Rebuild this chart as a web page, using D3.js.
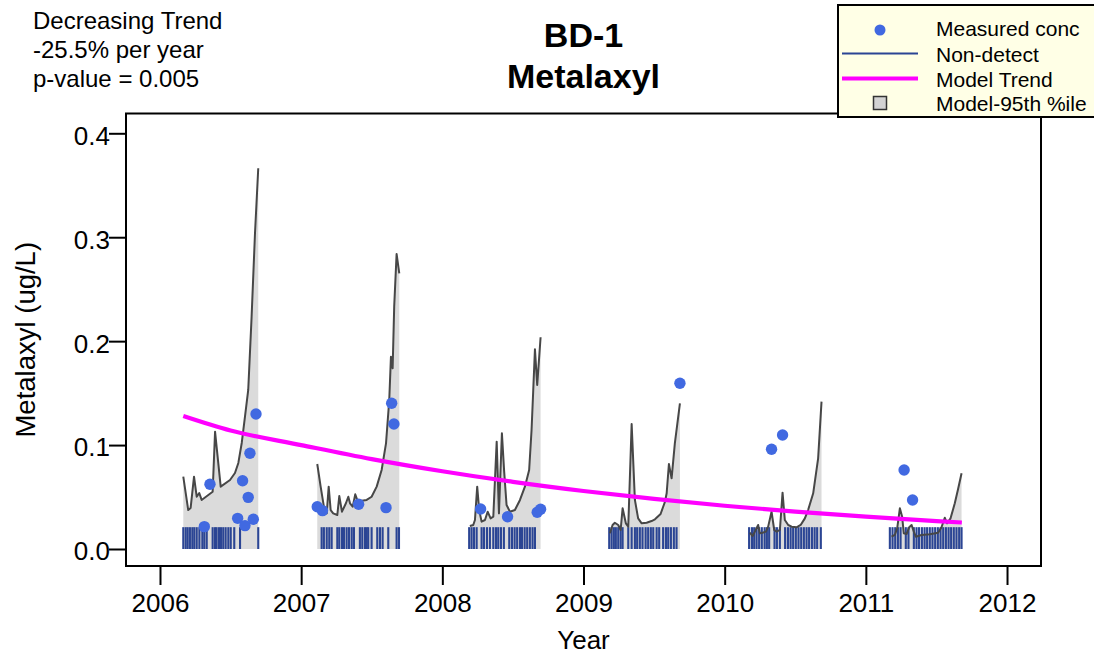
<!DOCTYPE html>
<html>
<head>
<meta charset="utf-8">
<script src="https://cdn.jsdelivr.net/npm/d3@7"></script>
<style>
  html, body { margin: 0; padding: 0; background: #ffffff; }
  svg { display: block; font-family: "Liberation Sans", Arial, Helvetica, sans-serif; }
</style>
</head>
<body>
<svg id="chart" width="1094" height="656"></svg>
<script>
// ---------------- DATA ----------------
const titleLines = ["BD-1", "Metalaxyl"];
const trendText = ["Decreasing Trend", "-25.5% per year", "p-value = 0.005"];
const xTickValues = [2006, 2007, 2008, 2009, 2010, 2011, 2012];
const xTickLabels = ["2006", "2007", "2008", "2009", "2010", "2011", "2012"];
const yTickValues = [0.0, 0.1, 0.2, 0.3, 0.4];
const yTickLabels = ["0.0", "0.1", "0.2", "0.3", "0.4"];
const legendLabels = ["Measured conc", "Non-detect", "Model Trend", "Model-95th %ile"];

// Model 95th percentile curve, one array per season: [decimal year, value]
const p95_2006 = [[2006.165,0.0696],[2006.200,0.0375],[2006.217,0.0395],[2006.241,0.0696],[2006.260,0.0503],[2006.278,0.0539],[2006.295,0.0472],[2006.373,0.0551],[2006.390,0.1129],[2006.430,0.0600],[2006.496,0.0664],[2006.531,0.0731],[2006.555,0.0828],[2006.579,0.1020],[2006.602,0.1273],[2006.625,0.1530],[2006.649,0.2236],[2006.673,0.3041],[2006.696,0.3664]];
const p95_2007 = [[2007.114,0.0818],[2007.138,0.0600],[2007.161,0.0407],[2007.181,0.0343],[2007.195,0.0600],[2007.209,0.0375],[2007.227,0.0343],[2007.256,0.0327],[2007.270,0.0510],[2007.289,0.0359],[2007.317,0.0440],[2007.334,0.0503],[2007.346,0.0440],[2007.365,0.0407],[2007.383,0.0526],[2007.397,0.0472],[2007.428,0.0465],[2007.464,0.0472],[2007.499,0.0503],[2007.535,0.0600],[2007.570,0.0760],[2007.601,0.1017],[2007.624,0.1434],[2007.636,0.1851],[2007.648,0.1739],[2007.659,0.2332],[2007.676,0.2839],[2007.695,0.2653]];
const p95_2008 = [[2008.195,0.0221],[2008.219,0.0231],[2008.231,0.0279],[2008.247,0.0600],[2008.261,0.0375],[2008.278,0.0263],[2008.302,0.0279],[2008.321,0.0359],[2008.342,0.0295],[2008.361,0.0311],[2008.385,0.1033],[2008.401,0.0343],[2008.422,0.1113],[2008.438,0.0744],[2008.455,0.0423],[2008.479,0.0359],[2008.514,0.0375],[2008.550,0.0472],[2008.585,0.0600],[2008.615,0.0760],[2008.632,0.1145],[2008.644,0.1530],[2008.656,0.1922],[2008.672,0.1578],[2008.696,0.2038]];
const p95_2009 = [[2009.187,0.0151],[2009.206,0.0231],[2009.222,0.0253],[2009.246,0.0231],[2009.263,0.0183],[2009.277,0.0392],[2009.300,0.0247],[2009.317,0.0215],[2009.341,0.1203],[2009.364,0.0472],[2009.387,0.0295],[2009.412,0.0247],[2009.447,0.0253],[2009.482,0.0269],[2009.506,0.0286],[2009.546,0.0337],[2009.577,0.0455],[2009.589,0.0536],[2009.605,0.0818],[2009.624,0.0680],[2009.647,0.1017],[2009.683,0.1402]];
const p95_2010 = [[2010.178,0.0157],[2010.198,0.0125],[2010.214,0.0167],[2010.237,0.0231],[2010.249,0.0151],[2010.268,0.0157],[2010.292,0.0167],[2010.308,0.0215],[2010.332,0.0359],[2010.351,0.0183],[2010.368,0.0167],[2010.391,0.0183],[2010.410,0.0542],[2010.426,0.0279],[2010.450,0.0231],[2010.474,0.0215],[2010.509,0.0209],[2010.538,0.0231],[2010.568,0.0295],[2010.591,0.0375],[2010.627,0.0536],[2010.662,0.0873],[2010.686,0.1418]];
const p95_2011 = [[2011.182,0.0118],[2011.205,0.0135],[2011.222,0.0199],[2011.241,0.0392],[2011.257,0.0311],[2011.269,0.0151],[2011.288,0.0144],[2011.307,0.0209],[2011.324,0.0231],[2011.340,0.0167],[2011.354,0.0118],[2011.394,0.0135],[2011.453,0.0141],[2011.512,0.0157],[2011.536,0.0209],[2011.559,0.0301],[2011.575,0.0247],[2011.600,0.0295],[2011.630,0.0440],[2011.653,0.0575],[2011.678,0.0729]];

// Measured (detected) concentrations
const measuredYears  = [2006.314,2006.354,2006.550,2006.602,2006.661,2006.585,2006.625,2006.637,2006.680,
                        2007.114,2007.151,2007.407,2007.601,2007.641,2007.657,
                        2008.271,2008.462,2008.672,2008.696,
                        2009.683,
                        2010.332,2010.410,
                        2011.271,2011.331];
const measuredValues = [0.0215,0.0623,0.0295,0.0225,0.0286,0.0657,0.0497,0.0921,0.1299,
                        0.0407,0.0369,0.0430,0.0398,0.1402,0.1203,
                        0.0385,0.0311,0.0353,0.0382,
                        0.1595,
                        0.0960,0.1097,
                        0.0760,0.0472];

// Non-detect sample dates (drawn from 0 up to the reporting limit)
const nonDetectLimit = 0.021;
const nonDetectYears = [
  2006.165,2006.182,2006.196,2006.212,2006.229,2006.243,2006.260,2006.279,2006.300,2006.314,2006.331,2006.373,2006.390,2006.401,2006.418,2006.432,2006.448,2006.465,2006.484,2006.501,2006.526,2006.567,2006.696,
  2007.145,2007.161,2007.181,2007.199,2007.216,2007.256,2007.270,2007.289,2007.303,2007.322,2007.339,2007.358,2007.374,2007.416,2007.433,2007.452,2007.464,2007.475,2007.499,2007.539,2007.558,2007.577,2007.617,2007.676,2007.693,
  2008.190,2008.207,2008.224,2008.243,2008.278,2008.295,2008.316,2008.337,2008.361,2008.380,2008.396,2008.415,2008.436,2008.474,2008.493,2008.512,2008.530,2008.550,2008.564,2008.583,2008.601,2008.620,2008.639,2008.656,
  2009.182,2009.199,2009.215,2009.229,2009.246,2009.263,2009.277,2009.317,2009.341,2009.364,2009.380,2009.399,2009.418,2009.440,2009.458,2009.477,2009.494,2009.518,2009.536,2009.564,2009.584,2009.600,2009.619,2009.640,2009.659,
  2010.173,2010.193,2010.209,2010.226,2010.244,2010.263,2010.283,2010.299,2010.315,2010.353,2010.370,2010.391,2010.428,2010.448,2010.467,2010.485,2010.504,2010.523,2010.542,2010.561,2010.580,2010.598,2010.618,2010.637,2010.655,2010.681,
  2011.170,2011.189,2011.208,2011.227,2011.246,2011.283,2011.302,2011.340,2011.359,2011.377,2011.397,2011.416,2011.434,2011.453,2011.472,2011.491,2011.510,2011.529,2011.548,2011.567,2011.586,2011.604,2011.623,2011.642,2011.661,2011.678
];

// Model trend
const trendYears  = [2006.165, 2006.5, 2007.0, 2007.5, 2008.0, 2008.5, 2009.0, 2009.5, 2010.0, 2010.5, 2011.0, 2011.5, 2011.680];
const trendValues = [0.1280, 0.1140, 0.1000, 0.0865, 0.0748, 0.0646, 0.0558, 0.0482, 0.0416, 0.0360, 0.0311, 0.0269, 0.0255];

// ---------------- LAYOUT ----------------
const W = 1094, H = 656;
const plot = { left: 126, right: 1041, top: 113.5, bottom: 566 };
const colors = {
  point: "#4169E1", rug: "#2B4594", trend: "#FF00FF",
  fill: "#DBDBDB", curve: "#474747", legendBg: "#FFFFE6"
};
const FONT = "'Liberation Sans', Arial, Helvetica, sans-serif";

const svg = d3.select("#chart");

const x = d3.scaleLinear().domain([2005.7592, 2012.2407]).range([plot.left, plot.right]);
const y = d3.scaleLinear().domain([-0.01636, 0.41905]).range([plot.bottom, plot.top]);

const clipId = "plotclip";
svg.append("defs").append("clipPath").attr("id", clipId)
  .append("rect").attr("x", plot.left).attr("y", plot.top)
  .attr("width", plot.right - plot.left).attr("height", plot.bottom - plot.top);

const g = svg.append("g").attr("clip-path", `url(#${clipId})`);

const seasons = [p95_2006, p95_2007, p95_2008, p95_2009, p95_2010, p95_2011];

// 95th percentile shaded area
const area = d3.area().x(d => x(d[0])).y0(y(0)).y1(d => y(d[1]));
g.selectAll("path.p95area").data(seasons).join("path")
  .attr("class", "p95area").attr("d", area).attr("fill", colors.fill).attr("stroke", "none");

// non-detect rug
g.selectAll("line.nd").data(nonDetectYears).join("line")
  .attr("class", "nd")
  .attr("x1", d => x(d)).attr("x2", d => x(d))
  .attr("y1", y(0)).attr("y2", y(nonDetectLimit))
  .attr("stroke", colors.rug).attr("stroke-width", 2.1);

// 95th percentile line
const line = d3.line().x(d => x(d[0])).y(d => y(d[1]));
g.selectAll("path.p95line").data(seasons).join("path")
  .attr("class", "p95line").attr("d", line).attr("fill", "none")
  .attr("stroke", colors.curve).attr("stroke-width", 2).attr("stroke-linejoin", "round");

// model trend
const trendData = trendYears.map((t, i) => [t, trendValues[i]]);
g.append("path").datum(trendData)
  .attr("d", d3.line().x(d => x(d[0])).y(d => y(d[1])).curve(d3.curveMonotoneX))
  .attr("fill", "none").attr("stroke", colors.trend).attr("stroke-width", 4.2);

// measured points
const measured = measuredYears.map((t, i) => [t, measuredValues[i]]);
g.selectAll("circle.pt").data(measured).join("circle")
  .attr("class", "pt").attr("cx", d => x(d[0])).attr("cy", d => y(d[1]))
  .attr("r", 5.7).attr("fill", colors.point);

// box
svg.append("rect").attr("x", plot.left).attr("y", plot.top)
  .attr("width", plot.right - plot.left).attr("height", plot.bottom - plot.top)
  .attr("fill", "none").attr("stroke", "#000").attr("stroke-width", 2);

// x axis
const xAxis = d3.axisBottom(x).tickValues(xTickValues)
  .tickFormat((d, i) => xTickLabels[i]).tickSize(19).tickPadding(9);
const xg = svg.append("g").attr("transform", `translate(0,${plot.bottom})`).call(xAxis);
xg.select(".domain").remove();
xg.selectAll(".tick line").attr("stroke", "#000").attr("stroke-width", 2);
xg.selectAll(".tick text").attr("font-family", FONT).attr("font-size", 26).attr("fill", "#000");

// y axis
const yAxis = d3.axisLeft(y).tickValues(yTickValues)
  .tickFormat((d, i) => yTickLabels[i]).tickSize(17).tickPadding(-1);
const yg = svg.append("g").attr("transform", `translate(${plot.left},0)`).call(yAxis);
yg.select(".domain").remove();
yg.selectAll(".tick line").attr("stroke", "#000").attr("stroke-width", 2);
yg.selectAll(".tick text").attr("font-family", FONT).attr("font-size", 26).attr("fill", "#000")
  .attr("dy", "0.42em");

// axis titles
svg.append("text").attr("x", (plot.left + plot.right) / 2).attr("y", 649)
  .attr("text-anchor", "middle").attr("font-family", FONT).attr("font-size", 26).text("Year");
svg.append("text")
  .attr("transform", `translate(35,${(plot.top + plot.bottom) / 2}) rotate(-90)`)
  .attr("text-anchor", "middle").attr("font-family", FONT).attr("font-size", 27.5)
  .text("Metalaxyl (ug/L)");

// title
const titleY = [47, 88];
titleLines.forEach((t, i) => {
  svg.append("text").attr("x", (plot.left + plot.right) / 2).attr("y", titleY[i])
    .attr("text-anchor", "middle").attr("font-family", FONT).attr("font-weight", "bold")
    .attr("font-size", 34).text(t);
});

// trend annotation
const annY = [29, 58, 87];
trendText.forEach((t, i) => {
  svg.append("text").attr("x", 33).attr("y", annY[i])
    .attr("font-family", FONT).attr("font-size", 24).text(t);
});

// legend
const lg = svg.append("g");
lg.append("rect").attr("x", 838).attr("y", 5).attr("width", 262).attr("height", 112)
  .attr("fill", colors.legendBg).attr("stroke", "#000").attr("stroke-width", 2);
const legY = [30, 53.5, 78.5, 103];
const legBase = [36, 62, 87, 111];
lg.append("circle").attr("cx", 880).attr("cy", legY[0]).attr("r", 5.5).attr("fill", colors.point);
lg.append("line").attr("x1", 842).attr("x2", 918).attr("y1", legY[1]).attr("y2", legY[1])
  .attr("stroke", colors.rug).attr("stroke-width", 2);
lg.append("line").attr("x1", 842).attr("x2", 918).attr("y1", legY[2]).attr("y2", legY[2])
  .attr("stroke", colors.trend).attr("stroke-width", 4.2);
lg.append("rect").attr("x", 873.5).attr("y", legY[3] - 6.5).attr("width", 13).attr("height", 13)
  .attr("fill", "#D3D3D3").attr("stroke", "#333").attr("stroke-width", 1.5);
legendLabels.forEach((t, i) => {
  lg.append("text").attr("x", 936).attr("y", legBase[i])
    .attr("font-family", FONT).attr("font-size", 21).text(t);
});
</script>
</body>
</html>
